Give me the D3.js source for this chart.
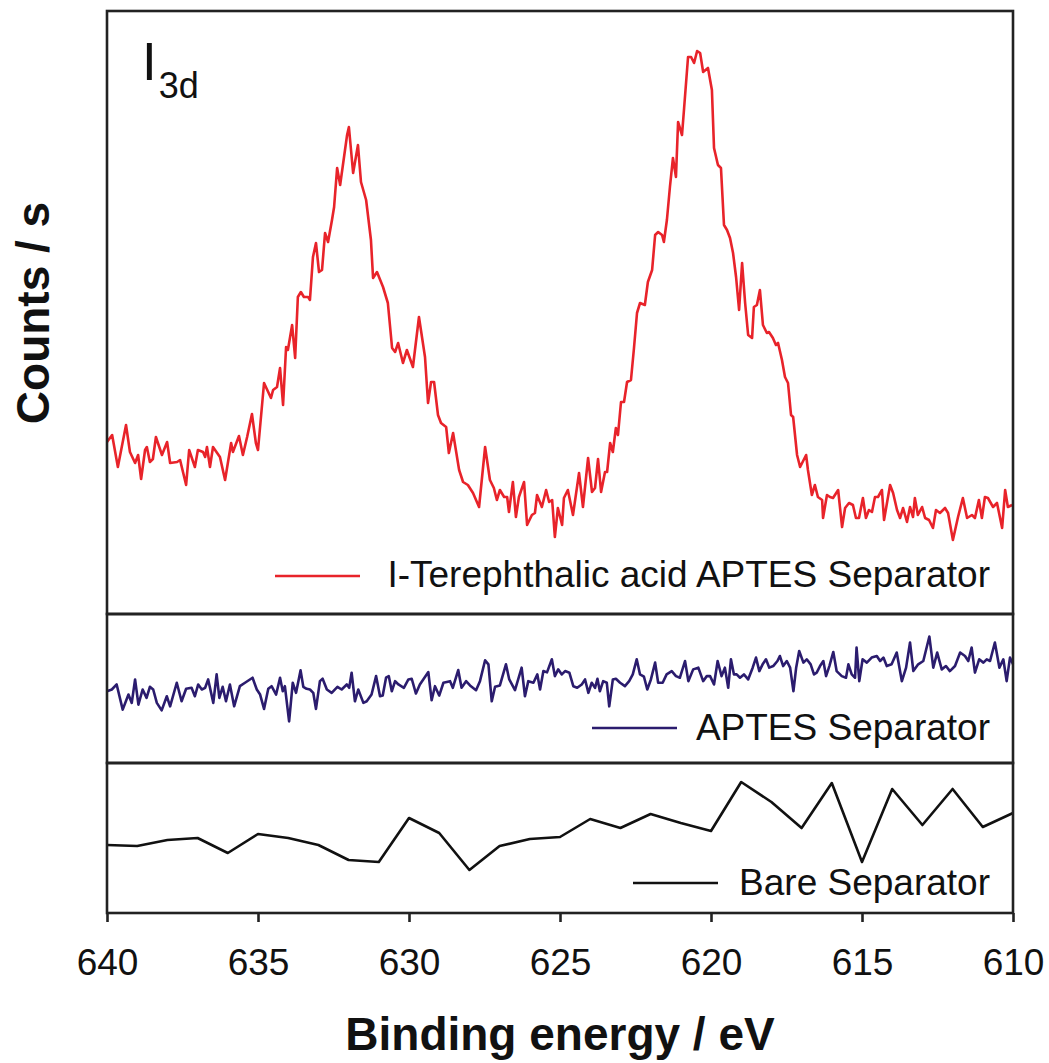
<!DOCTYPE html>
<html>
<head>
<meta charset="utf-8">
<script src="https://cdn.jsdelivr.net/npm/d3@7"></script>
<style>
  html, body { margin: 0; padding: 0; background: #fff; }
  svg { display: block; font-family: "Liberation Sans", Arial, sans-serif; }
</style>
</head>
<body>
<svg id="chart" width="1049" height="1063"></svg>
<script>
// I 3d XPS spectra, binding energy in eV, intensity in counts/s (arbitrary offset per panel)

// I-Terephthalic acid APTES Separator
const iTereEnergy = [640.00,639.83,639.64,639.37,639.24,639.07,638.97,638.87,638.74,638.68,638.58,638.48,638.38,638.18,638.01,637.91,637.68,637.58,637.38,637.28,637.09,636.99,636.82,636.75,636.69,636.59,636.49,636.26,636.09,635.89,635.83,635.63,635.50,635.36,635.20,635.07,635.00,634.80,634.57,634.50,634.37,634.27,634.17,634.07,634.01,633.87,633.77,633.68,633.58,633.48,633.34,633.28,633.18,633.08,632.98,632.88,632.78,632.68,632.55,632.48,632.38,632.28,632.05,631.99,631.85,631.69,631.59,631.42,631.26,631.19,631.06,630.86,630.70,630.56,630.46,630.36,630.20,630.07,629.87,629.67,629.47,629.37,629.27,629.17,629.04,628.94,628.77,628.68,628.54,628.34,628.21,628.05,627.88,627.68,627.48,627.32,627.19,627.09,626.99,626.85,626.75,626.69,626.56,626.46,626.36,626.19,626.09,625.93,625.83,625.76,625.60,625.46,625.36,625.26,625.17,625.07,624.93,624.87,624.74,624.57,624.37,624.24,624.07,623.94,623.84,623.74,623.64,623.51,623.44,623.34,623.25,623.15,623.08,622.98,622.88,622.78,622.65,622.55,622.45,622.35,622.19,622.09,621.95,621.85,621.75,621.62,621.56,621.46,621.36,621.26,621.16,621.09,620.96,620.89,620.76,620.66,620.56,620.46,620.36,620.26,620.10,619.97,619.90,619.77,619.67,619.57,619.47,619.37,619.27,619.17,619.07,618.97,618.87,618.77,618.64,618.58,618.48,618.38,618.28,618.15,618.08,617.95,617.85,617.78,617.65,617.55,617.45,617.35,617.28,617.15,617.05,616.85,616.79,616.66,616.56,616.46,616.32,616.29,616.16,616.06,615.96,615.79,615.66,615.56,615.43,615.30,615.20,615.10,614.97,614.87,614.77,614.67,614.57,614.47,614.34,614.27,614.07,613.97,613.84,613.74,613.64,613.51,613.41,613.31,613.25,613.15,613.01,612.91,612.78,612.65,612.55,612.42,612.25,612.15,611.99,611.82,611.66,611.52,611.36,611.26,611.13,611.03,610.93,610.83,610.66,610.53,610.36,610.26,610.17,610.03];
const iTereCounts = [1720,1790,1470,1890,1620,1510,1590,1350,1640,1670,1520,1550,1770,1590,1720,1510,1520,1540,1290,1640,1470,1640,1620,1570,1670,1470,1670,1570,1340,1710,1620,1780,1590,1770,2000,1710,1640,2310,2160,2240,2270,2460,2090,2670,2640,2890,2560,3170,3220,3170,3170,3140,3570,3710,3420,3440,3810,3720,3940,4070,4460,4290,4790,4870,4410,4690,4320,4140,3740,3360,3420,3270,3110,2660,2620,2710,2510,2640,2470,2970,2570,2110,2320,2320,1990,1910,1870,1610,1810,1440,1320,1290,1210,1070,1670,1340,1260,1140,1240,1170,1170,1020,1320,970,1170,1320,890,990,1010,1190,1070,1240,1120,1140,770,1060,890,1160,1240,990,1410,1070,1560,1220,1260,1550,1220,1420,1420,1710,1620,1860,1790,2120,2120,2320,2340,2660,3010,3110,3090,3320,3440,3790,3820,3790,3720,3940,4270,4560,4370,4920,4790,5060,5570,5570,5510,5630,5610,5420,5460,5240,4660,4490,4460,3890,3840,3760,3610,3370,3040,3510,3110,2790,2760,3070,3090,3240,2890,2810,2820,2760,2690,2710,2540,2370,2310,1990,1970,1590,1470,1590,1440,1190,1290,1170,1140,960,1190,1170,1160,1240,870,1060,1110,1090,960,960,1160,960,1040,1020,1170,1170,1240,940,1290,1210,1040,960,1060,920,1070,970,1160,990,1070,960,940,860,1040,1010,1060,1010,740,970,1160,960,990,960,1140,960,1170,1160,1070,1110,860,1240,1070,1090];

// APTES Separator
const aptesEnergy = [640.00,639.84,639.68,639.48,639.29,639.18,639.07,638.96,638.82,638.69,638.58,638.47,638.35,638.19,638.02,637.91,637.69,637.53,637.38,637.20,637.09,636.98,636.86,636.75,636.65,636.48,636.37,636.28,636.17,636.06,635.93,635.79,635.60,635.43,635.18,635.04,634.93,634.80,634.66,634.55,634.40,634.27,634.18,634.11,633.97,633.85,633.74,633.59,633.50,633.39,633.28,633.17,633.08,632.95,632.86,632.72,632.56,632.37,632.23,632.06,631.98,631.90,631.79,631.68,631.51,631.40,631.24,631.09,630.96,630.87,630.76,630.67,630.57,630.46,630.35,630.17,630.02,629.91,629.77,629.64,629.36,629.25,629.14,629.00,628.86,628.64,628.55,628.37,628.26,628.11,627.98,627.78,627.65,627.48,627.37,627.26,627.15,626.99,626.79,626.68,626.49,626.27,626.16,626.05,625.88,625.75,625.66,625.55,625.43,625.27,625.17,625.06,624.94,624.83,624.69,624.56,624.43,624.28,624.17,624.06,623.95,623.84,623.76,623.68,623.57,623.45,623.37,623.25,623.15,623.01,622.85,622.71,622.59,622.46,622.35,622.22,622.11,621.99,621.85,621.75,621.60,621.47,621.30,621.16,621.03,620.86,620.75,620.59,620.42,620.26,620.14,620.03,619.90,619.78,619.65,619.54,619.43,619.34,619.24,619.15,619.04,618.91,618.77,618.62,618.51,618.40,618.29,618.18,618.07,617.94,617.80,617.72,617.61,617.49,617.38,617.27,617.18,617.08,616.94,616.83,616.70,616.59,616.50,616.39,616.28,616.19,616.08,615.95,615.84,615.67,615.53,615.45,615.34,615.23,615.18,615.09,614.98,614.84,614.68,614.51,614.40,614.29,614.18,614.02,613.85,613.68,613.54,613.41,613.30,613.14,612.97,612.77,612.64,612.51,612.36,612.22,612.09,611.92,611.75,611.59,611.48,611.37,611.26,611.12,610.98,610.87,610.76,610.60,610.45,610.32,610.21,610.10,610.00];
const aptesCounts = [713,730,780,530,680,597,830,580,730,647,757,730,597,523,663,563,797,613,737,747,663,780,730,747,830,597,880,647,757,613,780,563,763,797,847,730,680,537,737,763,680,847,713,763,413,797,697,920,757,737,730,697,537,813,837,730,697,757,730,780,747,897,613,730,597,613,680,863,663,670,847,863,713,813,780,747,830,837,690,780,903,623,763,670,797,813,747,923,747,813,770,723,813,1020,980,613,757,770,980,830,723,947,663,813,797,880,730,913,900,1030,863,930,880,913,897,763,747,780,830,697,797,747,837,713,813,797,563,830,837,797,763,813,880,1030,880,857,730,830,997,797,797,880,913,863,847,1013,813,930,947,813,863,863,780,1013,863,947,747,1030,880,880,847,880,830,947,1047,913,980,1030,947,963,1013,1063,963,1013,947,713,947,1113,997,1030,980,880,897,963,1013,863,963,1103,913,863,847,980,880,847,1147,813,1030,997,1047,1063,1013,1047,963,980,1097,813,947,1197,913,980,1013,1257,947,1097,930,963,913,963,1097,1063,1013,1147,897,1030,997,1030,1013,1197,947,1030,813,1047,980];

// Bare Separator
const bareEnergy = [640,639,638,637,636,635,634,633,632,631,630,629,628,627,626,625,624,623,622,621,620,619,618,617,616,615,614,613,612,611,610];
const bareCounts = [680,670,730,750,600,790,750,680,530,510,950,800,430,670,740,760,940,850,990,900,820,1310,1110,850,1300,510,1240,880,1240,860,1000];

const energyTicks = [640,635,630,625,620,615,610];
const seriesNames = ["I-Terephthalic acid APTES Separator", "APTES Separator", "Bare Separator"];
const seriesColors = ["#e8232a", "#2b1c6e", "#111111"];

const svg = d3.select("#chart");
const left = 107, right = 1013;
const panels = [
  { top: 11,  bottom: 614, energy: iTereEnergy, counts: iTereCounts, max: 6030 },
  { top: 614, bottom: 763, energy: aptesEnergy, counts: aptesCounts, max: 1480 },
  { top: 763, bottom: 913, energy: bareEnergy,  counts: bareCounts,  max: 1500 }
];

const x = d3.scaleLinear().domain([640, 610]).range([left, right]);

// legend placement inside each panel: line start, line y, text baseline
const legendPos = [
  { x0: 275, y: 576, base: 587 },
  { x0: 592, y: 728, base: 740 },
  { x0: 633, y: 883, base: 895 }
];

panels.forEach((p, i) => {
  const y = d3.scaleLinear().domain([0, p.max]).range([p.bottom, p.top]);
  const pts = p.energy.map((e, k) => [e, p.counts[k]]);
  const line = d3.line().x(d => x(d[0])).y(d => y(d[1]));

  svg.append("path")
    .datum(pts)
    .attr("d", line)
    .attr("fill", "none")
    .attr("stroke", seriesColors[i])
    .attr("stroke-width", 2.6)
    .attr("stroke-linejoin", "round");

  const lg = legendPos[i];
  svg.append("line")
    .attr("x1", lg.x0).attr("x2", lg.x0 + 85)
    .attr("y1", lg.y).attr("y2", lg.y)
    .attr("stroke", seriesColors[i]).attr("stroke-width", 2.6);
  svg.append("text")
    .attr("x", 990).attr("y", lg.base)
    .attr("text-anchor", "end")
    .attr("font-size", 37)
    .attr("fill", "#111")
    .text(seriesNames[i]);

  svg.append("rect")
    .attr("x", left).attr("y", p.top)
    .attr("width", right - left).attr("height", p.bottom - p.top)
    .attr("fill", "none")
    .attr("stroke", "#222")
    .attr("stroke-width", 2.6);
});

// bottom energy axis
const axis = d3.axisBottom(x)
  .tickValues(energyTicks)
  .tickFormat(d3.format("d"))
  .tickSize(9)
  .tickPadding(27);

const ax = svg.append("g")
  .attr("transform", `translate(0,913)`)
  .call(axis);
ax.select(".domain").remove();
ax.selectAll(".tick line").attr("stroke", "#222").attr("stroke-width", 2.6);
ax.selectAll(".tick text")
  .attr("font-size", 37)
  .attr("font-family", "Liberation Sans, Arial, sans-serif")
  .attr("fill", "#111");

// axis titles
svg.append("text")
  .attr("x", (left + right) / 2).attr("y", 1050)
  .attr("text-anchor", "middle")
  .attr("font-size", 46)
  .attr("font-weight", "bold")
  .attr("fill", "#111")
  .text("Binding energy / eV");

svg.append("text")
  .attr("transform", "translate(49,313) rotate(-90)")
  .attr("text-anchor", "middle")
  .attr("font-size", 46)
  .attr("font-weight", "bold")
  .attr("fill", "#111")
  .text("Counts / s");

// panel label: I 3d
const lab = svg.append("text")
  .attr("x", 142).attr("y", 80)
  .attr("fill", "#111");
lab.append("tspan").attr("font-size", 53).text("I");
lab.append("tspan").attr("font-size", 36).attr("dx", 2).attr("dy", 18).text("3d");
</script>
</body>
</html>
